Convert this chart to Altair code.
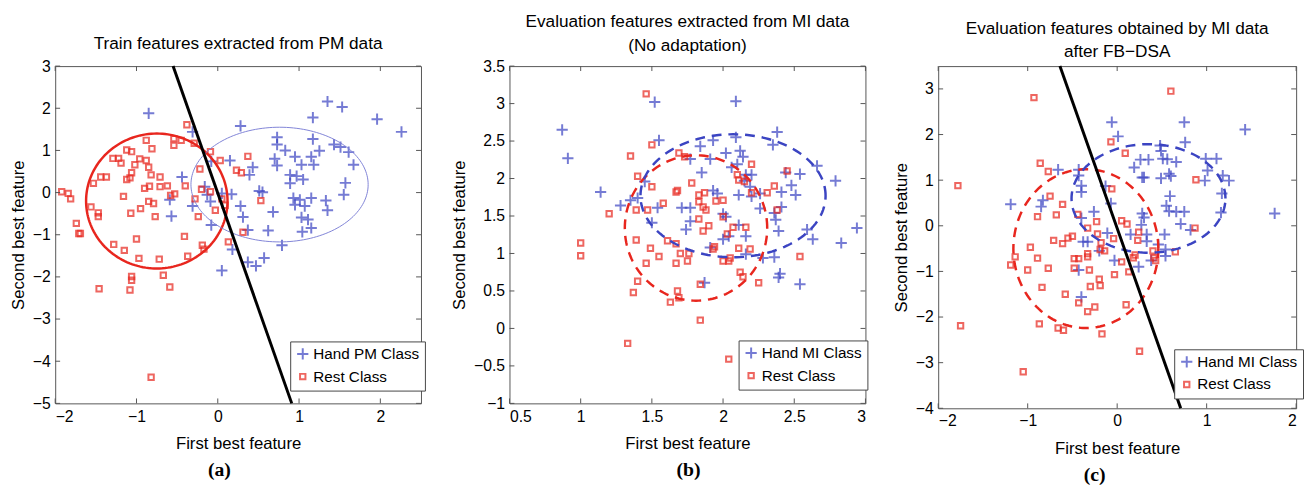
import altair as alt
import numpy as np
import pandas as pd

BLUE = "#3b44c2"
RED = "#e8261e"
LIGHTBLUE = "#7f83d6"
PLUS = "M-1,0H1M0,-1V1"
FONT = "Liberation Sans"

# ---------------- Panel (a) ----------------
a_hand_x = [-0.85,-0.31,0.28,1.35,1.53,1.17,1.96,2.26,0.73,0.73,1.17,1.43,1.51,0.83,1.25,1.61,1.67,0.95,1.15,1.03,
            1.18,0.70,0.73,-0.08,0.15,0.43,0.39,-0.44,0.89,0.97,0.89,1.05,1.57,1.55,-0.16,-0.13,-0.09,0.05,0.17,-0.59,
            -0.31,-0.57,0.51,0.55,0.93,1.01,1.15,0.95,1.07,1.03,1.11,1.33,1.35,0.28,0.31,-0.08,0.37,0.68,0.62,1.04,
            1.15,0.79,0.18,0.37,0.47,0.57,0.05]
a_hand_y = [1.88,1.44,1.58,2.16,2.03,1.78,1.74,1.44,1.31,1.14,1.27,1.14,1.08,1.00,0.99,0.96,0.66,0.85,0.85,0.66,
            0.66,0.80,0.64,0.74,0.76,0.60,0.42,0.37,0.42,0.39,0.22,0.31,0.23,-0.05,0.14,-0.05,-0.21,-0.02,-0.04,-0.17,
            -0.32,-0.56,0.04,0.01,-0.13,-0.17,-0.13,-0.29,-0.32,-0.59,-0.64,-0.19,-0.42,-0.32,-0.58,-0.77,-0.89,-0.46,-0.90,-0.93,
            -0.84,-1.25,-1.35,-1.65,-1.74,-1.55,-1.85]
a_rest_x = [-0.38,-0.88,-0.54,-0.54,-0.45,-0.29,-0.81,-1.12,-1.06,-0.09,0.03,0.37,-1.29,-1.22,-1.19,-0.96,-1.02,-0.88,-0.85,-0.82,
            -1.06,-1.12,-1.08,-1.44,-1.37,-1.53,-0.71,-0.71,-0.62,-0.84,-0.90,-0.40,-0.22,0.23,0.29,-0.20,-0.09,-1.16,-0.58,-0.53,
            -0.28,0.05,0.09,-0.03,-0.85,-0.79,-0.95,-1.07,-0.77,-0.24,-1.56,-1.47,-1.47,-1.92,-1.84,-1.81,-1.74,-1.71,-1.69,0.53,
            0.31,-0.41,-1.00,0.13,-0.19,-0.17,-1.28,-1.15,-0.97,-0.37,-0.72,-0.67,-1.06,-1.06,-1.46,-1.08,-0.59,-0.82]
a_rest_y = [1.61,1.24,1.28,1.12,1.24,1.17,1.04,1.01,0.97,0.97,0.76,0.86,0.81,0.81,0.70,0.80,0.66,0.76,0.60,0.42,
            0.47,0.31,0.35,0.37,0.37,0.22,0.37,0.14,0.16,0.15,0.10,0.16,0.56,0.53,0.47,0.08,0.02,-0.09,-0.07,-0.03,
            -0.15,-0.15,-0.30,-0.42,-0.21,-0.26,-0.38,-0.49,-0.57,-0.57,-0.34,-0.48,-0.57,0.02,-0.02,-0.15,-0.73,-0.97,-0.97,-0.19,
            -0.94,-1.04,-1.10,-1.17,-1.25,-1.34,-1.23,-1.37,-1.56,-1.51,-1.58,-1.96,-1.99,-2.08,-2.28,-2.31,-2.24,-4.38]

# ---------------- Panel (b) ----------------
b_hand_x = [0.87,0.91,1.52,2.09,1.14,1.28,1.35,1.40,1.45,1.54,1.50,1.55,1.77,1.84,1.93,1.91,2.02,2.09,2.12,2.10,
            2.06,2.14,2.16,2.20,2.35,2.38,2.44,2.54,2.66,2.79,1.85,1.93,1.96,2.11,2.19,2.20,2.26,2.26,2.41,2.48,
            2.51,2.41,2.36,2.37,2.39,1.71,1.77,1.77,1.74,2.02,2.11,2.16,2.04,2.00,1.91,2.28,2.36,2.59,2.63,2.83,
            2.94,2.39,2.40,2.54,1.87,2.15,2.00,2.16]
b_hand_y = [2.65,2.27,3.02,3.03,1.82,1.64,1.71,1.74,1.96,1.61,1.41,2.51,2.26,2.43,2.51,2.26,2.34,2.55,2.37,2.19,
            2.15,2.29,2.05,2.05,2.45,2.62,2.08,2.06,2.17,1.97,2.08,1.84,1.80,1.78,1.89,1.76,1.60,1.80,1.82,1.91,
            1.78,1.62,1.54,1.45,1.30,1.61,1.61,1.43,1.32,1.49,1.38,1.23,1.23,1.19,1.08,0.94,0.95,1.32,1.19,1.14,
            1.34,0.68,0.73,0.59,0.61,1.97,1.53,0.99]
b_rest_x = [1.46,1.50,1.35,1.40,1.50,1.20,1.39,1.47,1.58,1.00,1.00,1.39,1.49,1.55,1.46,1.40,1.37,1.33,1.61,1.67,
            1.70,1.76,1.75,1.67,1.68,1.69,1.63,1.84,1.84,2.04,1.67,1.68,1.69,1.73,1.78,1.83,1.83,1.87,1.86,1.88,
            1.83,1.90,1.86,1.95,2.00,2.00,2.03,2.07,2.16,1.93,1.94,2.00,2.04,2.05,2.11,2.19,2.12,2.14,2.25,2.10,
            2.11,2.15,2.20,2.20,2.31,2.36,2.45,2.38,2.54]
b_rest_y = [3.13,2.45,2.30,2.03,1.89,1.53,1.58,1.58,1.67,1.14,0.97,1.18,1.07,0.96,0.87,0.63,0.48,-0.20,1.17,1.13,
            1.00,1.00,0.90,0.87,0.50,0.41,0.35,0.59,0.11,-0.41,1.82,1.84,2.34,2.29,1.94,1.78,1.69,1.81,1.62,1.58,
            1.46,1.37,1.30,1.70,1.71,1.49,1.26,1.35,1.35,1.06,1.09,0.90,0.90,0.94,1.07,1.06,0.75,0.69,0.61,2.05,
            1.98,1.96,2.19,1.81,1.81,1.90,2.10,1.58,0.96]

# ---------------- Panel (c) ----------------
c_hand_x = [-0.06,0.01,-1.19,-0.66,-0.43,-0.43,-0.40,-0.40,-0.83,-0.85,-0.26,-0.40,-0.13,-0.07,-0.38,-0.33,-0.11,-0.20,-0.43,-0.40,
            -0.03,0.75,0.76,1.43,1.76,0.48,0.49,0.26,0.35,0.19,0.51,0.56,0.66,0.28,0.30,0.49,0.58,0.60,0.99,1.11,
            1.01,0.98,1.18,1.25,1.17,1.16,0.59,0.55,0.58,0.66,0.75,0.71,0.82,0.28,0.30,0.27,0.15,0.33,0.33,0.53,
            0.46,0.54,0.54,0.38,0.24]
c_hand_y = [2.27,1.96,0.47,1.23,1.23,1.10,0.88,0.74,0.56,0.42,0.31,0.17,0.87,0.49,-0.35,-0.35,-0.16,-0.55,-0.97,-1.56,
            -0.76,2.27,1.83,2.11,0.27,1.76,1.64,1.45,1.45,1.28,1.47,1.46,1.40,1.06,1.06,1.04,1.14,1.09,1.47,1.47,
            1.21,0.99,1.10,0.99,0.71,0.29,0.65,0.44,0.32,0.31,0.31,0.04,-0.09,0.27,0.18,0.02,-0.19,-0.19,-0.34,-0.19,
            -0.41,-0.52,-0.66,-0.76,-0.90]
c_rest_x = [-0.93,-1.78,-1.75,-1.05,-0.86,-0.77,-0.75,-0.89,-0.61,-0.68,-0.44,-0.33,-0.23,-0.22,-0.71,-0.61,-0.55,-0.50,-0.33,-0.33,
            -0.48,-0.43,-0.48,-0.31,-0.97,-1.14,-1.19,-0.89,-1.00,-0.77,-0.84,-0.58,-0.43,-0.33,-0.25,-0.20,-0.19,-0.30,-0.87,-0.66,
            -0.60,-0.17,-0.18,-0.14,-0.19,-0.04,-0.03,-0.07,-0.06,
            0.60,0.09,0.88,0.87,0.65,0.05,0.11,0.24,0.23,0.20,0.18,0.40,0.41,0.43,0.05,0.13,0.10,0.25]
c_rest_y = [2.81,0.88,-2.19,-3.20,1.37,1.19,0.65,0.20,0.47,0.24,0.25,-0.05,0.09,-0.18,-0.32,-0.39,-0.27,-0.23,-0.61,-0.68,
            -0.72,-0.72,-0.93,-0.97,-0.47,-0.68,-0.86,-0.71,-0.97,-0.93,-1.35,-1.50,-1.69,-1.88,-1.78,-1.17,-1.31,-1.33,-2.15,-2.24,
            -2.29,-2.37,-0.37,-0.55,-0.52,-0.28,-1.07,1.84,0.81,
            2.95,1.59,1.01,-0.05,-0.57,0.11,0.04,-0.14,-0.32,-0.64,-0.70,-0.55,-0.70,-0.76,-0.79,-1.01,-1.73,-2.75]

# ellipse parameters: centre x, centre y, half-width, half-height
a_ell_rest = [-0.75, -0.20, 0.87, 1.60]
a_ell_hand = [0.76, 0.19, 1.09, 1.36]
b_ell_rest = [1.81, 1.34, 0.50, 0.97]
b_ell_hand = [2.07, 1.77, 0.65, 0.82]
c_ell_rest = [-0.35, -0.50, 0.81, 1.74]
c_ell_hand = [0.35, 0.60, 0.86, 1.19]

# decision boundary end points (x at top edge, y top, x at bottom edge, y bottom)
a_bound = [-0.55, 3.0, 0.91, -5.0]
c_bound = [-0.64, 3.5, 0.71, -4.0]


def ellipse_df(p, n=160):
    t = np.linspace(0, 2 * np.pi, n + 1)
    return pd.DataFrame({"x": p[0] + p[2] * np.cos(t), "y": p[1] + p[3] * np.sin(t), "i": np.arange(n + 1)})


def panel(hx, hy, rx, ry, hand_label, ells, bound, xdom, ydom, xticks, yticks,
          W, H, title, toff, cap, cap_x, leg_x, leg_y):
    sx = alt.Scale(domain=xdom, nice=False, zero=False)
    sy = alt.Scale(domain=ydom, nice=False, zero=False)
    xenc = alt.X("x:Q", scale=sx, title="First best feature",
                 axis=alt.Axis(values=xticks, format="~g", ticks=False, domain=False, grid=False,
                               labelPadding=5, titlePadding=12))
    yenc = alt.Y("y:Q", scale=sy, title="Second best feature",
                 axis=alt.Axis(values=yticks, format="~g", ticks=False, domain=False, grid=False,
                               labelPadding=5, titlePadding=5))
    pts = pd.concat([
        pd.DataFrame({"x": hx, "y": hy, "cls": hand_label}),
        pd.DataFrame({"x": rx, "y": ry, "cls": "Rest Class"}),
    ])
    dom = [hand_label, "Rest Class"]
    leg = alt.Legend(orient="none", legendX=leg_x, legendY=leg_y, title=None,
                     fillColor="white", strokeColor="#444", padding=5,
                     labelFont=FONT, labelFontSize=15.5, labelColor="black", labelOffset=3,
                     symbolSize=85, symbolStrokeWidth=2, rowPadding=5)
    points = alt.Chart(pts).mark_point(filled=False).encode(
        x=xenc, y=yenc,
        color=alt.Color("cls:N", scale=alt.Scale(domain=dom, range=[BLUE, RED]), legend=leg),
        shape=alt.Shape("cls:N", scale=alt.Scale(domain=dom, range=[PLUS, "square"]), legend=leg),
        size=alt.Size("cls:N", scale=alt.Scale(domain=dom, range=[130, 30]), legend=None),
        strokeWidth=alt.StrokeWidth("cls:N", scale=alt.Scale(domain=dom, range=[2, 2]), legend=None),
    )
    layers = [points]
    for p, col, sw, dash in ells:
        kw = dict(color=col, strokeWidth=sw)
        if dash:
            kw["strokeDash"] = dash
        layers.append(alt.Chart(ellipse_df(p)).mark_line(**kw).encode(
            x=xenc, y=yenc, order="i:Q"))
    if bound:
        bdf = pd.DataFrame({"x": [bound[0]], "y": [bound[1]], "x2": [bound[2]], "y2": [bound[3]]})
        layers.append(alt.Chart(bdf).mark_rule(color="black", strokeWidth=3).encode(
            x=xenc, y=yenc, x2="x2:Q", y2="y2:Q"))
    xt = pd.DataFrame({"x": xticks})
    yt = pd.DataFrame({"y": yticks})
    tc = "#555"
    layers.append(alt.Chart(xt).mark_rule(color=tc).encode(x=xenc, y=alt.value(H), y2=alt.value(H - 5)))
    layers.append(alt.Chart(xt).mark_rule(color=tc).encode(x=xenc, y=alt.value(0), y2=alt.value(5)))
    layers.append(alt.Chart(yt).mark_rule(color=tc).encode(y=yenc, x=alt.value(0), x2=alt.value(5)))
    layers.append(alt.Chart(yt).mark_rule(color=tc).encode(y=yenc, x=alt.value(W), x2=alt.value(W - 5)))
    layers.append(alt.Chart(pd.DataFrame({"t": [cap]})).mark_text(
        font="Liberation Serif", fontWeight="bold", fontSize=20, color="black").encode(
        text="t:N", x=alt.value(cap_x), y=alt.value(H + 68)))
    return alt.layer(*layers).properties(
        width=W, height=H,
        title=alt.TitleParams(text=title, font=FONT, fontSize=17.5, fontWeight="normal",
                              color="black", offset=toff, lineHeight=24, anchor="middle"))


pa = panel(a_hand_x, a_hand_y, a_rest_x, a_rest_y, "Hand PM Class",
           [(a_ell_rest, RED, 2.5, None), (a_ell_hand, LIGHTBLUE, 1, None)], a_bound,
           [-2, 2.5], [-5, 3], [-2, -1, 0, 1, 2], [-5, -4, -3, -2, -1, 0, 1, 2, 3],
           372, 343, ["Train features extracted from PM data"], 6, "(a)", 167, 239, 280)
pb = panel(b_hand_x, b_hand_y, b_rest_x, b_rest_y, "Hand MI Class",
           [(b_ell_rest, RED, 2.5, [10, 7]), (b_ell_hand, BLUE, 2.5, [10, 7])], None,
           [0.5, 3], [-1, 3.5], [0.5, 1, 1.5, 2, 2.5, 3], [-1, -0.5, 0, 0.5, 1, 1.5, 2, 2.5, 3, 3.5],
           362, 343, ["Evaluation features extracted from MI data", "(No adaptation)"], 4, "(b)", 182, 233, 279)
pc = panel(c_hand_x, c_hand_y, c_rest_x, c_rest_y, "Hand MI Class",
           [(c_ell_rest, RED, 2.5, [10, 7]), (c_ell_hand, BLUE, 2.5, [10, 7])], c_bound,
           [-2, 2], [-4, 3.5], [-2, -1, 0, 1, 2], [-4, -3, -2, -1, 0, 1, 2, 3],
           364, 348, ["Evaluation features obtained by MI data", "after FB\u2212DSA"], 4, "(c)", 159, 240, 288)

chart = alt.hconcat(pa, pb, pc, spacing=24).resolve_scale(
    color="independent", shape="independent", size="independent", strokeWidth="independent"
).properties(
    padding={"left": 1, "top": 1, "right": 0, "bottom": 0}, background="white"
).configure_view(stroke="#555", strokeWidth=1).configure_axis(
    labelFont=FONT, labelFontSize=16, labelColor="black",
    titleFont=FONT, titleFontSize=17, titleFontWeight="normal", titleColor="black"
)

chart.save("out.html", embed_options={"renderer": "svg", "actions": False})
